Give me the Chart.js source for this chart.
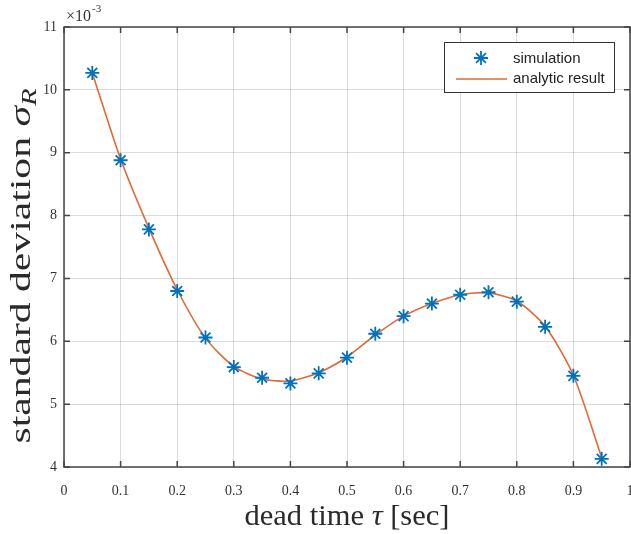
<!DOCTYPE html>
<html>
<head>
<meta charset="utf-8">
<script src="https://cdn.jsdelivr.net/npm/chart.js@4/dist/chart.umd.min.js"></script>
<style>
  html, body { margin: 0; padding: 0; background: #fff; }
  #wrap { width: 631px; height: 534px; }
</style>
</head>
<body>
<div id="wrap"><canvas id="c" width="631" height="534"></canvas></div>
<script>
'use strict';

// ── data (y in units of 1e-3) ───────────────────────────────────────────────
const deadTimes      = [0.05, 0.10, 0.15, 0.20, 0.25, 0.30, 0.35, 0.40, 0.45, 0.50, 0.55, 0.60, 0.65, 0.70, 0.75, 0.80, 0.85, 0.90, 0.95];
const simulation     = [10.27, 8.88, 7.78, 6.80, 6.06, 5.59, 5.42, 5.33, 5.49, 5.74, 6.12, 6.40, 6.60, 6.74, 6.78, 6.63, 6.23, 5.45, 4.13];
const analyticResult = [10.27, 8.90, 7.80, 6.82, 6.05, 5.60, 5.40, 5.37, 5.50, 5.75, 6.10, 6.40, 6.60, 6.74, 6.77, 6.64, 6.24, 5.46, 4.15];
const xTicks = [0, 0.1, 0.2, 0.3, 0.4, 0.5, 0.6, 0.7, 0.8, 0.9, 1];
const yTicks = [4, 5, 6, 7, 8, 9, 10, 11];
const seriesNames = ['simulation', 'analytic result'];

const BLUE   = '#0072BD';
const ORANGE = '#E06A35';
const AXIS   = '#454545';
const SERIF  = "'Liberation Serif', 'DejaVu Serif', serif";
const SANS   = "'Liberation Sans', Arial, sans-serif";

const toPts = ys => deadTimes.map((x, i) => ({ x, y: ys[i] }));

// draw a run of text parts, stretched along the text direction to a given length
function drawRich(ctx, parts, cx, cy, rotate, targetLen) {
  let w = 0;
  parts.forEach(p => { ctx.font = p.font; p.w = ctx.measureText(p.text).width; w += p.w; });
  ctx.save();
  ctx.translate(cx, cy);
  if (rotate) ctx.rotate(-Math.PI / 2);
  ctx.scale(targetLen / w, 1);
  ctx.textAlign = 'left';
  ctx.textBaseline = 'alphabetic';
  ctx.fillStyle = '#2a2a2a';
  let x = -w / 2;
  parts.forEach(p => { ctx.font = p.font; ctx.fillText(p.text, x, p.dy || 0); x += p.w; });
  ctx.restore();
}

// ── axes frame, inward ticks, labels, legend (MATLAB look) ─────────────────
const matlabDecor = {
  id: 'matlabDecor',
  afterDraw(chart) {
    const { ctx, chartArea: a, scales } = chart;
    const tl = 6;
    ctx.save();
    ctx.strokeStyle = AXIS;
    ctx.lineWidth = 1.5;
    ctx.strokeRect(a.left, a.top, a.right - a.left, a.bottom - a.top);
    ctx.beginPath();
    xTicks.forEach(v => {
      const px = scales.x.getPixelForValue(v);
      ctx.moveTo(px, a.bottom); ctx.lineTo(px, a.bottom - tl);
      ctx.moveTo(px, a.top);    ctx.lineTo(px, a.top + tl);
    });
    yTicks.forEach(v => {
      const py = scales.y.getPixelForValue(v);
      ctx.moveTo(a.left, py);  ctx.lineTo(a.left + tl, py);
      ctx.moveTo(a.right, py); ctx.lineTo(a.right - tl, py);
    });
    ctx.stroke();

    // exponent
    ctx.fillStyle = '#333';
    ctx.textBaseline = 'alphabetic';
    ctx.textAlign = 'left';
    ctx.font = `16px ${SERIF}`;
    ctx.fillText('\u00d710', a.left + 2, a.top - 6);
    const ew = ctx.measureText('\u00d710').width;
    ctx.font = `11px ${SERIF}`;
    ctx.fillText('-3', a.left + 3 + ew, a.top - 15);

    // axis titles
    const midX = (a.left + a.right) / 2;
    drawRich(ctx, [
      { text: 'dead time ', font: `30px ${SERIF}` },
      { text: '\u03c4', font: `italic 30px ${SERIF}` },
      { text: ' [sec]', font: `30px ${SERIF}` },
    ], midX, 525, false, 205);
    drawRich(ctx, [
      { text: 'standard deviation ', font: `29px ${SERIF}` },
      { text: '\u03c3', font: `italic 29px ${SERIF}` },
      { text: 'R', font: `italic 20px ${SERIF}`, dy: 6 },
    ], 30, 266, true, 355);

    // legend
    const lx = 444, ly = 42, lw = 170, lh = 50;
    ctx.fillStyle = '#fff';
    ctx.fillRect(lx, ly, lw, lh);
    ctx.strokeStyle = '#333';
    ctx.lineWidth = 1;
    ctx.strokeRect(lx + 0.5, ly + 0.5, lw, lh);
    const sim = chart.data.datasets[0];
    ctx.strokeStyle = BLUE;
    ctx.lineWidth = sim.borderWidth;
    Chart.helpers.drawPoint(ctx, { pointStyle: 'star', radius: sim.pointRadius, borderWidth: sim.borderWidth, rotation: 0 }, 481, 58);
    ctx.strokeStyle = ORANGE;
    ctx.lineWidth = 1.5;
    ctx.beginPath();
    ctx.moveTo(456, 79); ctx.lineTo(507, 79);
    ctx.stroke();
    ctx.fillStyle = '#222';
    ctx.font = `15px ${SANS}`;
    ctx.textBaseline = 'middle';
    ctx.fillText(seriesNames[0], 513, 59);
    ctx.fillText(seriesNames[1], 513, 79);
    ctx.restore();
  },
};

new Chart(document.getElementById('c').getContext('2d'), {
  type: 'scatter',
  data: {
    datasets: [
      {
        label: seriesNames[0],
        data: toPts(simulation),
        showLine: false,
        pointStyle: 'star',
        pointRadius: 7,
        pointBorderColor: BLUE,
        pointBackgroundColor: BLUE,
        borderColor: BLUE,
        borderWidth: 1.8,
        order: 0,
      },
      {
        label: seriesNames[1],
        data: toPts(analyticResult),
        showLine: true,
        pointRadius: 0,
        borderColor: ORANGE,
        borderWidth: 1.6,
        tension: 0.25,
        order: 1,
      },
    ],
  },
  options: {
    responsive: false,
    animation: false,
    devicePixelRatio: 1,
    layout: { autoPadding: false, padding: { top: 27, right: 1, left: 0, bottom: 0 } },
    plugins: { legend: { display: false }, tooltip: { enabled: false } },
    scales: {
      x: {
        type: 'linear', min: 0, max: 1,
        afterFit: s => { s.height = 67; s.paddingLeft = 0; s.paddingRight = 0; },
        afterBuildTicks: s => { s.ticks = xTicks.map(v => ({ value: v })); },
        grid: { color: 'rgba(0,0,0,0.14)', lineWidth: 1, drawTicks: false },
        border: { display: false },
        ticks: { padding: 16, color: '#333', font: { family: SERIF, size: 14 }, maxRotation: 0, callback: v => String(v) },
      },
      y: {
        type: 'linear', min: 4, max: 11,
        afterFit: s => { s.width = 64; s.paddingTop = 0; s.paddingBottom = 0; },
        afterBuildTicks: s => { s.ticks = yTicks.map(v => ({ value: v })); },
        grid: { color: 'rgba(0,0,0,0.14)', lineWidth: 1, drawTicks: false },
        border: { display: false },
        ticks: { padding: 7, color: '#333', font: { family: SERIF, size: 14 }, callback: v => String(v) },
      },
    },
  },
  plugins: [matlabDecor],
});
</script>
</body>
</html>
